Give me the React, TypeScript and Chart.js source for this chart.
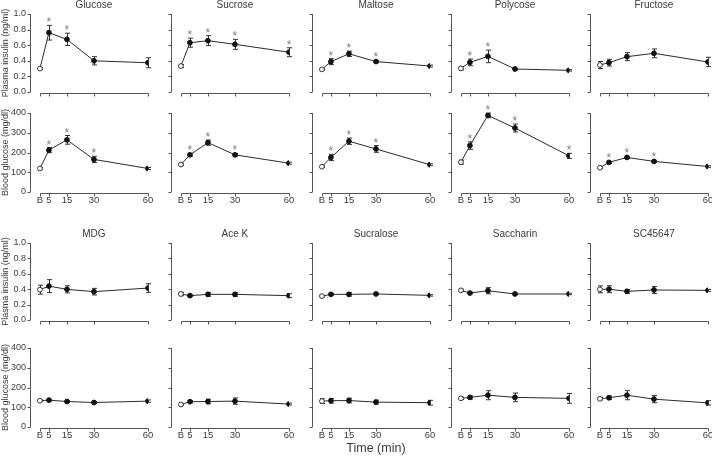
import React, { useEffect, useRef } from 'react';
import { Chart, registerables } from 'chart.js';

Chart.register(...registerables);

// ---------- data ----------
const times = [0, 5, 15, 30, 60];
const timeLabels = ['B', '5', '15', '30', '60'];
const insulinTicks = [0, 0.2, 0.4, 0.6, 0.8, 1.0];
const glucoseTicks = [0, 100, 200, 300, 400];

const sugars = ['Glucose', 'Sucrose', 'Maltose', 'Polycose', 'Fructose'];
const sweeteners = ['MDG', 'Ace K', 'Sucralose', 'Saccharin', 'SC45647'];

// plasma insulin (ng/ml), caloric sugars
const sugarInsulinMean = [
  [0.30, 0.76, 0.675, 0.40, 0.375],
  [0.333, 0.632, 0.658, 0.611, 0.51],
  [0.29, 0.389, 0.49, 0.39, 0.333],
  [0.303, 0.38, 0.457, 0.295, 0.278],
  [0.346, 0.376, 0.453, 0.496, 0.385],
];
const sugarInsulinSem = [
  [0.01, 0.094, 0.079, 0.053, 0.064],
  [0.02, 0.058, 0.064, 0.064, 0.057],
  [0.01, 0.038, 0.034, 0.015, 0.012],
  [0.02, 0.043, 0.081, 0.01, 0.01],
  [0.045, 0.043, 0.051, 0.056, 0.06],
];
const sugarInsulinSig = [
  [0, 1, 1, 0, 0],
  [0, 1, 1, 1, 1],
  [0, 1, 1, 1, 0],
  [0, 1, 1, 0, 0],
  [0, 0, 0, 0, 0],
];

// blood glucose (mg/dl), caloric sugars
const sugarGlucoseMean = [
  [119, 212, 264, 165, 119],
  [139, 188, 250, 188, 146],
  [128, 175, 257, 218, 138],
  [151, 235, 388, 324, 183],
  [123, 150, 175, 155, 129],
];
const sugarGlucoseSem = [
  [4, 13, 22, 16, 5],
  [4, 7, 13, 7, 5],
  [4, 16, 16, 17, 5],
  [10, 19, 12, 20, 13],
  [4, 5, 5, 5, 4],
];
const sugarGlucoseSig = [
  [0, 1, 1, 1, 0],
  [0, 1, 1, 1, 0],
  [0, 1, 1, 1, 0],
  [0, 1, 1, 1, 1],
  [0, 1, 1, 1, 0],
];

// plasma insulin (ng/ml), non-caloric sweeteners
const sweetInsulinMean = [
  [0.394, 0.44, 0.398, 0.368, 0.415],
  [0.338, 0.316, 0.333, 0.333, 0.316],
  [0.31, 0.333, 0.333, 0.338, 0.32],
  [0.385, 0.35, 0.38, 0.338, 0.338],
  [0.398, 0.40, 0.372, 0.39, 0.385],
];
const sweetInsulinSem = [
  [0.058, 0.084, 0.046, 0.043, 0.056],
  [0.022, 0.01, 0.025, 0.025, 0.025],
  [0.01, 0.012, 0.022, 0.01, 0.01],
  [0.015, 0.01, 0.04, 0.01, 0.01],
  [0.045, 0.045, 0.025, 0.045, 0.012],
];

// blood glucose (mg/dl), non-caloric sweeteners
const sweetGlucoseMean = [
  [133, 136, 129, 124, 131],
  [114, 128, 129, 131, 116],
  [131, 133, 134, 126, 123],
  [145, 150, 161, 150, 145],
  [143, 148, 161, 141, 122],
];
const sweetGlucoseSem = [
  [4, 4, 5, 5, 6],
  [4, 6, 12, 16, 5],
  [12, 12, 12, 10, 12],
  [6, 8, 23, 22, 25],
  [6, 9, 23, 18, 11],
];
const noSig = [0, 0, 0, 0, 0];

// ---------- layout / style ----------
const AXIS_X = [30, 171, 312, 451, 590];
const ROW_TOP = [14, 113, 243, 348];
const ROW_H = [78, 79, 77, 79];
const AREA_W = 118;
const PAD_T = 22;
const PAD_B = 22;
const PAD_R = 14;
const FONT = '"Liberation Sans", Arial, Helvetica, sans-serif';
const TEXT = '#3a3a3a';
const AXIS = '#555555';
const LINE = '#2a2a2a';
const ERR = '#333333';
const STAR = '#808080';

type Panel = {
  key: string;
  row: number;
  col: number;
  title: string | null;
  kind: 'ins' | 'bg';
  mean: number[];
  sem: number[];
  sig: number[];
};

const panels: Panel[] = [];
for (let r = 0; r < 4; r++) {
  for (let c = 0; c < 5; c++) {
    const top = r < 2;
    const ins = r % 2 === 0;
    panels.push({
      key: `${r}-${c}`,
      row: r,
      col: c,
      title: ins ? (top ? sugars[c] : sweeteners[c]) : null,
      kind: ins ? 'ins' : 'bg',
      mean: top ? (ins ? sugarInsulinMean[c] : sugarGlucoseMean[c]) : ins ? sweetInsulinMean[c] : sweetGlucoseMean[c],
      sem: top ? (ins ? sugarInsulinSem[c] : sugarGlucoseSem[c]) : ins ? sweetInsulinSem[c] : sweetGlucoseSem[c],
      sig: top ? (ins ? sugarInsulinSig[c] : sugarGlucoseSig[c]) : noSig,
    });
  }
}

function geom(p: Panel) {
  const padL = p.col === 0 ? 30 : 20;
  const extraB = p.row === 3 ? 14 : 0;
  const left = AXIS_X[p.col] - padL;
  const top = ROW_TOP[p.row] - PAD_T;
  const width = padL + AREA_W + PAD_R;
  const height = PAD_T + ROW_H[p.row] + PAD_B + extraB;
  return { padL, extraB, left, top, width, height };
}

function makePlugin(p: Panel) {
  const ymax = p.kind === 'ins' ? 1 : 400;
  const yTicks = p.kind === 'ins' ? insulinTicks : glucoseTicks;
  return {
    id: 'panelDecor',
    beforeDatasetsDraw(chart: any) {
      const { ctx, chartArea, scales } = chart;
      const x = scales.x;
      const y = scales.y;
      ctx.save();
      ctx.lineWidth = 1;
      ctx.strokeStyle = AXIS;
      ctx.beginPath();
      const l = Math.round(chartArea.left) + 0.5;
      const y0 = y.getPixelForValue(0);
      const y1 = y.getPixelForValue(ymax);
      ctx.moveTo(l, y0);
      ctx.lineTo(l, y1);
      for (const t of yTicks) {
        const py = Math.round(y.getPixelForValue(t)) + 0.5;
        ctx.moveTo(l - 3, py);
        ctx.lineTo(l, py);
      }
      const by = Math.round(chartArea.bottom) + 1.5;
      const xa = Math.round(x.getPixelForValue(times[0])) + 0.5;
      const xb = Math.round(x.getPixelForValue(times[times.length - 1])) + 0.5;
      ctx.moveTo(xa, by);
      ctx.lineTo(xb, by);
      for (const t of times) {
        const px = Math.round(x.getPixelForValue(t)) + 0.5;
        ctx.moveTo(px, by);
        ctx.lineTo(px, by + 3);
      }
      ctx.stroke();

      // error bars
      ctx.strokeStyle = ERR;
      ctx.beginPath();
      times.forEach((t, i) => {
        const px = Math.round(x.getPixelForValue(t)) + 0.5;
        const hi = y.getPixelForValue(p.mean[i] + p.sem[i]);
        const lo = y.getPixelForValue(p.mean[i] - p.sem[i]);
        ctx.moveTo(px, hi);
        ctx.lineTo(px, lo);
        ctx.moveTo(px - 2.5, hi);
        ctx.lineTo(px + 2.5, hi);
        ctx.moveTo(px - 2.5, lo);
        ctx.lineTo(px + 2.5, lo);
      });
      ctx.stroke();
      ctx.restore();
    },
    afterDatasetsDraw(chart: any) {
      const { ctx, chartArea, scales } = chart;
      const x = scales.x;
      const y = scales.y;
      ctx.save();
      // asterisks
      ctx.fillStyle = STAR;
      ctx.font = `12px ${FONT}`;
      ctx.textAlign = 'center';
      ctx.textBaseline = 'alphabetic';
      times.forEach((t, i) => {
        if (!p.sig[i]) return;
        const px = x.getPixelForValue(t);
        const hi = y.getPixelForValue(p.mean[i] + p.sem[i]);
        ctx.fillText('*', px, hi + 1);
      });
      const cx = (x.getPixelForValue(times[0]) + x.getPixelForValue(times[times.length - 1])) / 2;
      ctx.fillStyle = TEXT;
      if (p.title) {
        ctx.font = `10px ${FONT}`;
        ctx.textBaseline = 'middle';
        ctx.fillText(p.title, cx, chartArea.top - 8.5);
      }
      if (p.col === 0) {
        const ym = (y.getPixelForValue(0) + y.getPixelForValue(ymax)) / 2;
        ctx.save();
        ctx.translate(5.5, ym);
        ctx.rotate(-Math.PI / 2);
        ctx.font = `9px ${FONT}`;
        ctx.textAlign = 'center';
        ctx.textBaseline = 'middle';
        ctx.fillText(p.kind === 'ins' ? 'Plasma insulin (ng/ml)' : 'Blood glucose (mg/dl)', 0, 0);
        ctx.restore();
      }
      if (p.row === 3 && p.col === 2) {
        ctx.font = `12.5px ${FONT}`;
        ctx.textAlign = 'center';
        ctx.textBaseline = 'middle';
        ctx.fillText('Time (min)', cx, chartArea.bottom + 22);
      }
      ctx.restore();
    },
  };
}

function buildChart(canvas: HTMLCanvasElement, p: Panel) {
  const g = geom(p);
  const ymax = p.kind === 'ins' ? 1 : 400;
  const yTicks = p.kind === 'ins' ? insulinTicks : glucoseTicks;
  const showX = p.kind === 'bg';
  const pts = times.map((t, i) => ({ x: t, y: p.mean[i] }));
  return new Chart(canvas, {
    type: 'line',
    data: {
      datasets: [
        {
          data: pts,
          borderColor: LINE,
          borderWidth: 1,
          pointRadius: 2.4,
          pointBorderWidth: 1,
          pointBorderColor: times.map((_, i) => (i === 0 ? '#333333' : '#111111')),
          pointBackgroundColor: times.map((_, i) => (i === 0 ? '#ffffff' : '#111111')),
          tension: 0,
        },
      ],
    },
    options: {
      animation: false,
      responsive: false,
      devicePixelRatio: 1,
      events: [],
      layout: { padding: { top: PAD_T, right: PAD_R, left: 0, bottom: g.extraB } },
      plugins: {
        legend: { display: false },
        tooltip: { enabled: false },
        title: { display: false },
      },
      scales: {
        x: {
          type: 'linear',
          min: -5.5,
          max: 60,
          grid: { display: false, drawTicks: false },
          border: { display: false },
          afterBuildTicks: (s: any) => {
            s.ticks = times.map((v) => ({ value: v }));
          },
          afterFit: (s: any) => {
            s.height = PAD_B;
          },
          ticks: {
            display: showX,
            autoSkip: false,
            maxRotation: 0,
            minRotation: 0,
            padding: 3,
            color: TEXT,
            font: { family: FONT, size: 9.5 },
            callback: (v: any) => {
              const idx = times.indexOf(Number(v));
              return idx >= 0 ? timeLabels[idx] : '';
            },
          },
        },
        y: {
          type: 'linear',
          min: 0,
          max: ymax,
          grid: { display: false, drawTicks: false },
          border: { display: false },
          afterBuildTicks: (s: any) => {
            s.ticks = yTicks.map((v) => ({ value: v }));
          },
          afterFit: (s: any) => {
            s.width = g.padL;
          },
          ticks: {
            display: p.col === 0,
            padding: 4,
            color: TEXT,
            font: { family: FONT, size: 9 },
            callback: (v: any) => (p.kind === 'ins' ? Number(v).toFixed(1) : String(Math.round(Number(v)))),
          },
        },
      },
    } as any,
    plugins: [makePlugin(p) as any],
  });
}

export default function App() {
  const refs = useRef<(HTMLCanvasElement | null)[]>([]);

  useEffect(() => {
    const charts: Chart[] = [];
    panels.forEach((p, i) => {
      const cv = refs.current[i];
      if (cv) charts.push(buildChart(cv, p));
    });
    return () => {
      charts.forEach((c) => c.destroy());
    };
  }, []);

  return (
    <div
      style={{
        position: 'fixed',
        left: 0,
        top: 0,
        width: 712,
        height: 457,
        overflow: 'hidden',
        background: '#ffffff',
      }}
    >
      {panels.map((p, i) => {
        const g = geom(p);
        return (
          <canvas
            key={p.key}
            ref={(el) => {
              refs.current[i] = el;
            }}
            width={g.width}
            height={g.height}
            style={{
              position: 'absolute',
              left: g.left,
              top: g.top,
              width: g.width,
              height: g.height,
            }}
          />
        );
      })}
    </div>
  );
}
